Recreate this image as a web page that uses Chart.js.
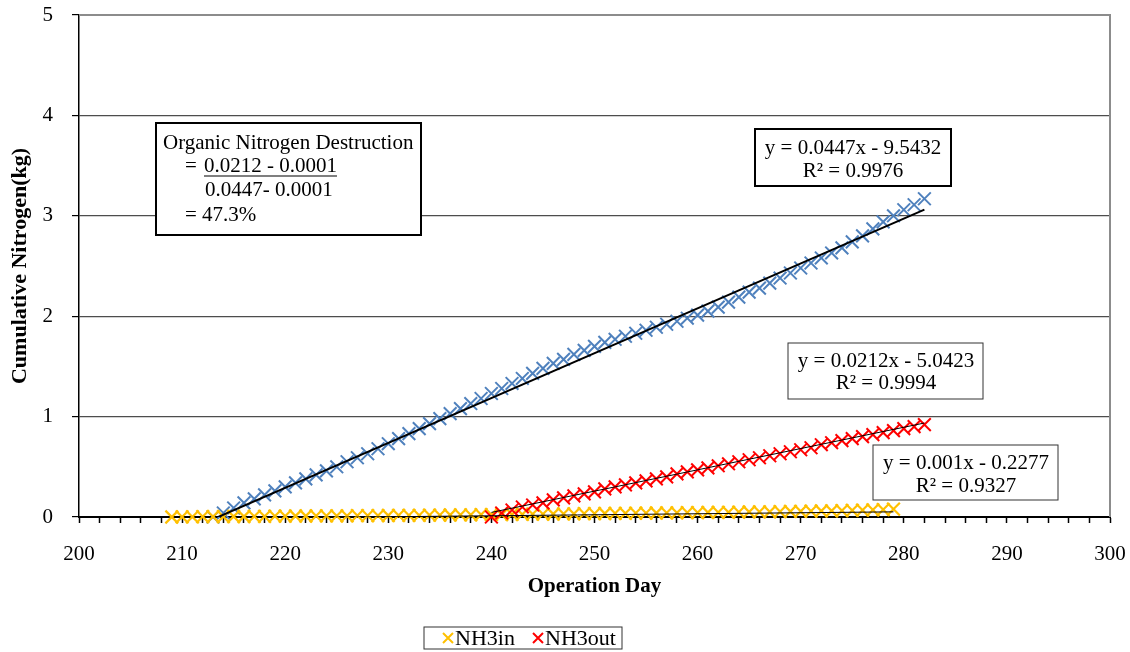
<!DOCTYPE html>
<html lang="en">
<head>
    <meta charset="UTF-8">
    <title>Cumulative Nitrogen</title>
    <style>
        body { margin: 0; background: #fff; }
        #wrap { width: 1130px; height: 652px; }
    </style>
</head>
<body>
    <div id="wrap"><canvas id="myChart" width="1130" height="652"></canvas></div>

    <script src="https://cdn.jsdelivr.net/npm/chart.js"></script>
    <script>
        // series: total N (blue), NH3 in (yellow), NH3 out (red)
        var totalDays = [213, 214, 215, 216, 217, 218, 219, 220, 221, 222, 223, 224, 225, 226, 227, 228, 229, 230,
            231, 232, 233, 234, 235, 236, 237, 238, 239, 240, 241, 242, 243, 244, 245, 246, 247, 248, 249, 250,
            251, 252, 253, 254, 255, 256, 257, 258, 259, 260, 261, 262, 263, 264, 265, 266, 267, 268, 269, 270,
            271, 272, 273, 274, 275, 276, 277, 278, 279, 280, 281, 282];
        var totalN = [0.00, 0.04, 0.09, 0.14, 0.18, 0.22, 0.26, 0.30, 0.34, 0.38, 0.42, 0.46, 0.50, 0.55, 0.59, 0.63, 0.68, 0.73,
            0.78, 0.83, 0.88, 0.93, 0.98, 1.03, 1.08, 1.13, 1.18, 1.23, 1.28, 1.33, 1.38, 1.43, 1.48, 1.53, 1.57, 1.62, 1.66, 1.70,
            1.74, 1.77, 1.80, 1.83, 1.86, 1.89, 1.92, 1.95, 1.98, 2.01, 2.05, 2.09, 2.14, 2.19, 2.24, 2.28, 2.33, 2.38, 2.43, 2.48,
            2.53, 2.58, 2.63, 2.68, 2.74, 2.80, 2.87, 2.94, 3.00, 3.06, 3.11, 3.17];

        var inDays = [209, 210, 211, 212, 213, 214, 215, 216, 217, 218, 219, 220, 221, 222, 223, 224, 225, 226, 227, 228, 229,
            230, 231, 232, 233, 234, 235, 236, 237, 238, 239, 240, 241, 242, 243, 244, 245, 246, 247, 248, 249,
            250, 251, 252, 253, 254, 255, 256, 257, 258, 259, 260, 261, 262, 263, 264, 265, 266, 267, 268, 269,
            270, 271, 272, 273, 274, 275, 276, 277, 278, 279];
        var nh3In = [0.000, 0.001, 0.002, 0.003, 0.004, 0.004, 0.005, 0.005, 0.006, 0.007, 0.008, 0.009, 0.010, 0.010, 0.011, 0.011, 0.012, 0.012, 0.013, 0.013, 0.014,
            0.015, 0.016, 0.016, 0.017, 0.018, 0.019, 0.020, 0.021, 0.022, 0.023, 0.024, 0.025, 0.026, 0.027, 0.028, 0.029, 0.030, 0.031, 0.032, 0.033,
            0.034, 0.035, 0.036, 0.037, 0.038, 0.039, 0.040, 0.041, 0.042, 0.043, 0.044, 0.045, 0.046, 0.047, 0.048, 0.050, 0.051, 0.052, 0.054, 0.055,
            0.057, 0.058, 0.060, 0.062, 0.064, 0.066, 0.068, 0.071, 0.074, 0.078];

        var outDays = [240, 241, 242, 243, 244, 245, 246, 247, 248, 249, 250, 251, 252, 253, 254, 255, 256, 257, 258, 259, 260,
            261, 262, 263, 264, 265, 266, 267, 268, 269, 270, 271, 272, 273, 274, 275, 276, 277, 278, 279, 280, 281, 282];
        var nh3Out = [0.00, 0.04, 0.07, 0.10, 0.12, 0.14, 0.17, 0.19, 0.21, 0.23, 0.25, 0.28, 0.30, 0.32, 0.34, 0.36, 0.38, 0.40, 0.43, 0.45, 0.47,
            0.49, 0.51, 0.53, 0.55, 0.57, 0.59, 0.61, 0.63, 0.65, 0.67, 0.69, 0.72, 0.74, 0.76, 0.78, 0.80, 0.82, 0.84, 0.86, 0.88, 0.90, 0.92];

        // trend lines as printed on the chart: [slope, intercept]
        var trendTotal = [0.0447, -9.5432];
        var trendIn = [0.001, -0.2277];
        var trendOut = [0.0212, -5.0423];

        var xTicks = [200, 210, 220, 230, 240, 250, 260, 270, 280, 290, 300];
        var yTicks = [0, 1, 2, 3, 4, 5];
        var legendOrder = ['NH3in', 'NH3out'];

        var serif = '"Liberation Serif", "Times New Roman", serif';

        function pts(xs, ys) {
            return xs.map(function (x, i) { return { x: x, y: ys[i] }; });
        }
        function trendPts(xs, t) {
            var a = xs[0], b = xs[xs.length - 1];
            return [{ x: a, y: t[0] * a + t[1] }, { x: b, y: t[0] * b + t[1] }];
        }

        var boxesPlugin = {
            id: 'boxes',
            afterDraw: function (chart) {
                var c = chart.ctx, a = chart.chartArea;
                c.save();
                // plot frame top / right
                c.strokeStyle = '#8c8c8c';
                c.lineWidth = 2;
                c.beginPath();
                c.moveTo(a.left, a.top); c.lineTo(a.right, a.top); c.lineTo(a.right, a.bottom);
                c.stroke();

                c.font = '21px ' + serif;
                c.fillStyle = '#000';
                c.textBaseline = 'middle';

                function box(x, y, w, h, lw, col) {
                    c.fillStyle = '#fff';
                    c.fillRect(x, y, w, h);
                    c.strokeStyle = col;
                    c.lineWidth = lw;
                    c.strokeRect(x, y, w, h);
                    c.fillStyle = '#000';
                }

                // calculation box
                box(156, 123, 265, 112, 2, '#000');
                c.textAlign = 'left';
                c.fillText('Organic Nitrogen Destruction', 163, 143);
                c.fillText('= ', 185, 166);
                var ux = 204;
                c.fillText('0.0212 - 0.0001', ux, 166);
                var uw = c.measureText('0.0212 - 0.0001').width;
                c.lineWidth = 1.2;
                c.strokeStyle = '#000';
                c.beginPath(); c.moveTo(ux, 176); c.lineTo(ux + uw, 176); c.stroke();
                c.fillText('0.0447- 0.0001', 205, 190);
                c.fillText('= 47.3%', 185, 215);

                c.textAlign = 'center';
                box(755, 129, 196, 57, 2, '#000');
                c.fillText('y = 0.0447x - 9.5432', 853, 148);
                c.fillText('R\u00b2 = 0.9976', 853, 171);

                box(788, 343, 195, 56, 1, '#333');
                c.fillText('y = 0.0212x - 5.0423', 886, 361);
                c.fillText('R\u00b2 = 0.9994', 886, 383);

                box(873, 445, 185, 55, 1, '#333');
                c.fillText('y = 0.001x - 0.2277', 966, 463);
                c.fillText('R\u00b2 = 0.9327', 966, 486);

                // legend
                box(424, 627, 198, 22, 1, '#333');
                var lx = 448;
                c.font = '22px ' + serif;
                legendOrder.forEach(function (name) {
                    var ds = chart.data.datasets.find(function (d) { return d.label === name; });
                    c.strokeStyle = ds.borderColor;
                    c.lineWidth = 2;
                    c.beginPath();
                    c.moveTo(lx - 5, 633); c.lineTo(lx + 5, 643);
                    c.moveTo(lx + 5, 633); c.lineTo(lx - 5, 643);
                    c.stroke();
                    c.textAlign = 'left';
                    c.fillStyle = '#000';
                    c.fillText(ds.label, lx + 7, 639);
                    lx += 90;
                });
                c.restore();
            }
        };

        var ctx = document.getElementById('myChart');
        var myChart = new Chart(ctx, {
            type: 'scatter',
            data: {
                datasets: [
                    { label: 'trend total', data: trendPts(totalDays, trendTotal), showLine: true, borderColor: '#000', borderWidth: 2, pointRadius: 0 },
                    { label: 'trend out', data: trendPts(outDays, trendOut), showLine: true, borderColor: '#000', borderWidth: 1, pointRadius: 0 },
                    { label: 'trend in', data: trendPts(inDays, trendIn), showLine: true, borderColor: '#000', borderWidth: 1, pointRadius: 0 },
                    { label: 'NH3out', data: pts(outDays, nh3Out), clip: false, pointStyle: 'crossRot', pointRadius: 9, borderColor: '#ff0000', backgroundColor: '#ff0000', borderWidth: 2 },
                    { label: 'NH3in', data: pts(inDays, nh3In), clip: false, pointStyle: 'crossRot', pointRadius: 9, borderColor: '#ffc000', backgroundColor: '#ffc000', borderWidth: 2.2 },
                    { label: 'Total N', data: pts(totalDays, totalN), clip: false, pointStyle: 'crossRot', pointRadius: 9, borderColor: '#4f81bd', backgroundColor: '#4f81bd', borderWidth: 2 }
                ]
            },
            options: {
                responsive: false,
                animation: false,
                layout: { padding: { left: 0, right: 20, top: 15, bottom: 45 } },
                plugins: {
                    legend: { display: false },
                    tooltip: { enabled: false }
                },
                scales: {
                    x: {
                        type: 'linear',
                        min: xTicks[0],
                        max: xTicks[xTicks.length - 1],
                        afterFit: function (s) { s.height = 90; s.paddingLeft = 0; s.paddingRight = 0; },
                        afterBuildTicks: function (s) {
                            var t = [];
                            for (var v = s.min; v <= s.max; v += 2) t.push({ value: v });
                            s.ticks = t;
                        },
                        ticks: {
                            autoSkip: false,
                            maxRotation: 0,
                            padding: 19,
                            color: '#000',
                            font: { family: serif, size: 21 },
                            callback: function (v) { return xTicks.indexOf(v) >= 0 ? String(v) : ''; }
                        },
                        grid: { drawOnChartArea: false, tickLength: 6, tickColor: '#000', tickWidth: 1.5 },
                        border: { color: '#000', width: 2 },
                        title: {
                            display: true,
                            text: 'Operation Day',
                            color: '#000',
                            font: { family: serif, size: 21, weight: 'bold' },
                            padding: { top: 0, bottom: 8 }
                        }
                    },
                    y: {
                        min: yTicks[0],
                        max: yTicks[yTicks.length - 1],
                        afterFit: function (s) { s.width = 79; s.paddingTop = 0; s.paddingBottom = 0; },
                        afterBuildTicks: function (s) {
                            s.ticks = yTicks.map(function (v) { return { value: v }; });
                        },
                        ticks: {
                            padding: 19,
                            color: '#000',
                            font: { family: serif, size: 21 }
                        },
                        grid: {
                            color: function (c) { return c.tick && c.tick.value === 5 ? '#8c8c8c' : '#4d4d4d'; },
                            lineWidth: 1.2,
                            tickLength: 7,
                            tickColor: '#000'
                        },
                        border: { color: '#000', width: 1.5 },
                        title: {
                            display: true,
                            text: 'Cumulative Nitrogen(kg)',
                            color: '#000',
                            font: { family: serif, size: 22, weight: 'bold' },
                            padding: { top: 7, bottom: 0 }
                        }
                    }
                }
            },
            plugins: [boxesPlugin]
        });
    </script>
</body>
</html>
